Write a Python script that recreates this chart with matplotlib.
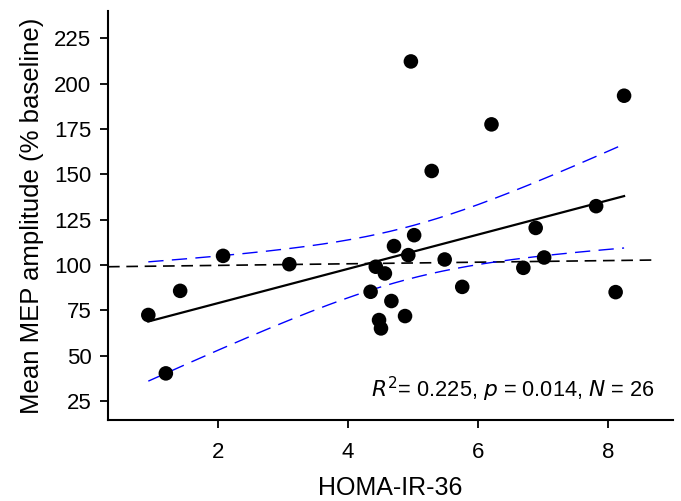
import numpy as np
from matplotlib import pyplot as plt

plt.rcParams['font.family'] = ['Liberation Sans', 'DejaVu Sans']

# HOMA-IR-36 vs mean MEP amplitude
homa = [0.93, 1.20, 1.42, 2.08, 3.10, 4.35, 4.43, 4.48, 4.51, 4.57, 4.67, 4.71, 4.88,
        4.93, 4.97, 5.02, 5.29, 5.49, 5.76, 6.21, 6.70, 6.89, 7.02, 7.82, 8.12, 8.25]
mep = [72.4, 40.2, 85.7, 105.0, 100.4, 85.2, 99.0, 69.6, 65.0, 95.3, 80.1, 110.4, 71.8,
       105.4, 212.2, 116.4, 151.8, 103.0, 87.9, 177.5, 98.4, 120.4, 104.1, 132.4, 85.0, 193.3]

# near-flat reference line (dashed black)
ref_x = [0.31, 8.70]
ref_y = [99.0, 102.7]

stats_text = r'$\mathit{R}^2$= 0.225, $\mathit{p}$ = 0.014, $\mathit{N}$ = 26'

T_CRIT = 2.064  # t(0.975, df=24)


def main() -> None:
    x = np.array(homa)
    y = np.array(mep)
    n = len(x)

    slope, intercept = np.polyfit(x, y, 1)
    resid = y - (slope * x + intercept)
    s = np.sqrt(np.sum(resid ** 2) / (n - 2))
    sxx = np.sum((x - x.mean()) ** 2)

    xs = np.linspace(x.min(), x.max(), 200)
    fit = slope * xs + intercept
    half = T_CRIT * s * np.sqrt(1 / n + (xs - x.mean()) ** 2 / sxx)

    fig = plt.figure(figsize=(6.81, 5.01), dpi=100)
    ax = fig.add_axes([0.1586, 0.1617, 0.8294, 0.8163])

    ax.plot(ref_x, ref_y, color='black', lw=1.2, dashes=(7, 4), zorder=2)
    ax.plot(xs, fit + half, color='blue', lw=1.0, dashes=(11, 6), zorder=2)
    ax.plot(xs, fit - half, color='blue', lw=1.0, dashes=(11, 6), zorder=2)
    ax.plot(xs, fit, color='black', lw=1.6, zorder=3)
    ax.scatter(x, y, s=110, color='black', edgecolors='none', zorder=4)

    ax.set_xlim(0.31, 9.0)
    ax.set_ylim(14.5, 240)
    ax.set_xticks([2, 4, 6, 8])
    ax.set_yticks([25, 50, 75, 100, 125, 150, 175, 200, 225])

    for side in ('top', 'right'):
        ax.spines[side].set_visible(False)
    for side in ('left', 'bottom'):
        ax.spines[side].set_linewidth(1.5)
    ax.tick_params(direction='out', length=6, width=1.3, labelsize=16)
    ax.tick_params(axis='x', pad=10)
    ax.tick_params(axis='y', pad=6)

    ax.set_xlabel('HOMA-IR-36', fontsize=18, labelpad=9)
    ax.set_ylabel('Mean MEP amplitude (% baseline)', fontsize=18.5, labelpad=7)

    ax.text(0.967, 0.04, stats_text, transform=ax.transAxes, ha='right', va='bottom',
            fontsize=15.7)

    fig.savefig('out.png', dpi=100)


if __name__ == '__main__':
    main()
